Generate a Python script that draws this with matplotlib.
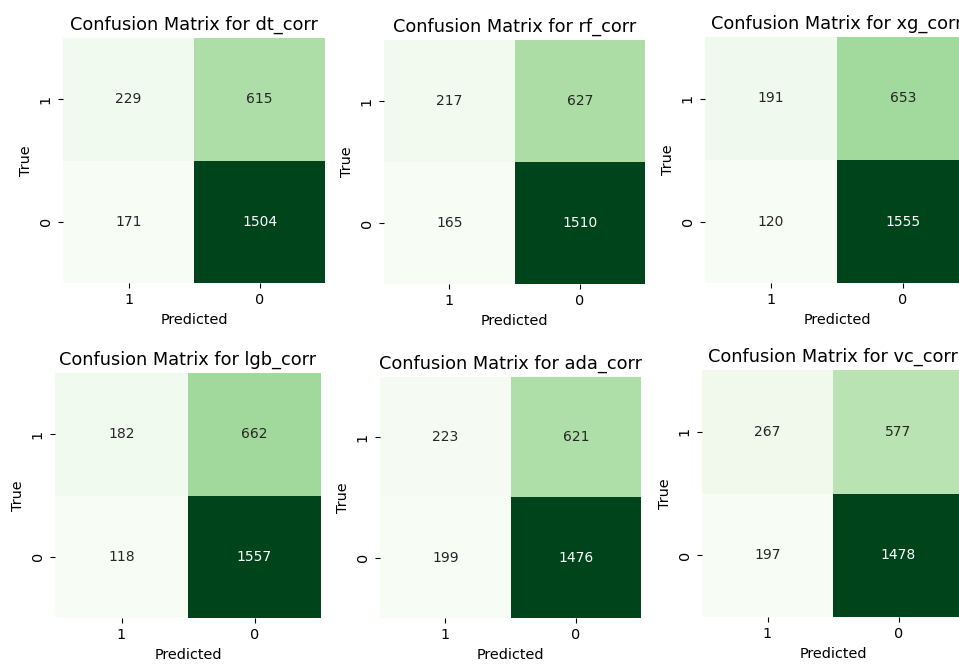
import numpy as np
import matplotlib
matplotlib.use("Agg")
from matplotlib import pyplot as plt
import seaborn as sns

# Confusion matrices, rows = true label (1, 0), columns = predicted label (1, 0)
model_names = ['dt_corr', 'rf_corr', 'xg_corr', 'lgb_corr', 'ada_corr', 'vc_corr']
dt_corr = [[229, 615], [171, 1504]]
rf_corr = [[217, 627], [165, 1510]]
xg_corr = [[191, 653], [120, 1555]]
lgb_corr = [[182, 662], [118, 1557]]
ada_corr = [[223, 621], [199, 1476]]
vc_corr = [[267, 577], [197, 1478]]
class_labels = ['1', '0']

matrices = [dt_corr, rf_corr, xg_corr, lgb_corr, ada_corr, vc_corr]

W, H = 959, 666
# heatmap boxes in pixels: left, top, right, bottom
boxes = [
    (63, 38, 325, 283),
    (384, 40, 645, 284),
    (705, 37, 969, 283),
    (55, 373, 321, 618),
    (380, 377, 641, 618),
    (702, 370, 964, 617),
]

plt.rcParams['xtick.labelsize'] = 10.4
plt.rcParams['ytick.labelsize'] = 10.4
plt.rcParams['xtick.major.pad'] = 4
plt.rcParams['ytick.major.pad'] = 4

fig = plt.figure(figsize=(W / 100, H / 100), dpi=100)

for name, cm, (l, t, r, b) in zip(model_names, matrices, boxes):
    ax = fig.add_axes([l / W, 1 - b / H, (r - l) / W, (b - t) / H])
    sns.heatmap(np.array(cm), annot=True, fmt='d', cmap='Greens', cbar=False,
                xticklabels=class_labels, yticklabels=class_labels, ax=ax,
                annot_kws={'fontsize': 10})
    ax.set_title(f'Confusion Matrix for {name}', fontsize=12.8)
    ax.set_xlabel('Predicted', fontsize=10.4)
    ax.set_ylabel('True', fontsize=10.4)

plt.savefig('out.png', dpi=100)
